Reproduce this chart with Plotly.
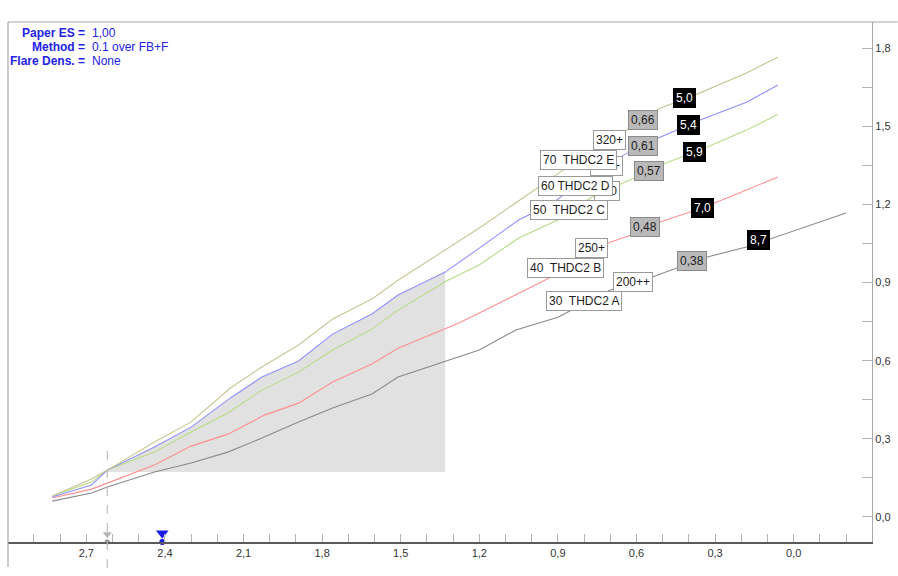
import numpy as np
import plotly.graph_objects as go

# ---- series data (x axis runs right-to-left) ----
x_a = [2.83, 2.68, 2.62, 2.44, 2.30, 2.16, 2.03, 1.89, 1.76, 1.61, 1.51, 1.32, 1.20, 1.06, 0.90, 0.70, 0.54, 0.33, 0.18, -0.20]
y_a = [0.061, 0.092, 0.115, 0.173, 0.207, 0.249, 0.303, 0.365, 0.418, 0.472, 0.537, 0.602, 0.641, 0.718, 0.767, 0.871, 0.921, 0.998, 1.036, 1.167]

x_b = [2.83, 2.68, 2.62, 2.44, 2.30, 2.16, 2.02, 1.89, 1.76, 1.61, 1.51, 1.28, 1.20, 1.05, 0.91, 0.70, 0.62, 0.51, 0.35, 0.21, 0.06]
y_b = [0.073, 0.107, 0.130, 0.200, 0.272, 0.318, 0.391, 0.437, 0.518, 0.587, 0.648, 0.744, 0.783, 0.860, 0.929, 1.055, 1.082, 1.132, 1.186, 1.243, 1.305]

x_c = [2.83, 2.68, 2.62, 2.44, 2.30, 2.16, 2.03, 1.89, 1.76, 1.61, 1.51, 1.32, 1.20, 1.05, 0.90, 0.77, 0.60, 0.49, 0.33, 0.18, 0.06]
y_c = [0.081, 0.134, 0.180, 0.249, 0.326, 0.399, 0.487, 0.556, 0.641, 0.721, 0.794, 0.909, 0.967, 1.071, 1.140, 1.228, 1.305, 1.358, 1.420, 1.485, 1.546]

x_d = [2.83, 2.68, 2.62, 2.44, 2.30, 2.15, 2.03, 1.89, 1.76, 1.61, 1.51, 1.39, 1.33, 1.20, 1.05, 0.92, 0.87, 0.65, 0.51, 0.36, 0.18, 0.06]
y_d = [0.077, 0.123, 0.180, 0.269, 0.345, 0.457, 0.537, 0.599, 0.702, 0.779, 0.852, 0.909, 0.940, 1.032, 1.140, 1.205, 1.243, 1.389, 1.458, 1.523, 1.592, 1.658]

x_e = [2.83, 2.68, 2.62, 2.44, 2.30, 2.15, 2.03, 1.89, 1.76, 1.61, 1.51, 1.20, 0.98, 0.87, 0.65, 0.51, 0.36, 0.18, 0.06]
y_e = [0.081, 0.146, 0.180, 0.288, 0.365, 0.495, 0.576, 0.660, 0.760, 0.837, 0.909, 1.109, 1.262, 1.339, 1.477, 1.569, 1.627, 1.704, 1.765]

# shaded working range and its floor
shade_from = 2.62
shade_to = 1.33
shade_floor = 0.173

# axis markers
marker_gray_x = 2.62
marker_blue_x = 2.41
dash_top = 0.27

# header values
header_rows = [("Paper ES =", "1,00"), ("Method =", "0.1 over FB+F"), ("Flare Dens. =", "None")]

# per-series labels: (text, x position, box style, vertical nudge in px)
labels_a = [("30\u00a0 THDC2 A", 0.80, "w", 3), ("200++", 0.612, "w", 1), ("0,38", 0.390, "g", 2), ("8,7", 0.134, "k", 3)]
labels_b = [("40\u00a0 THDC2 B", 0.872, "w", 1), ("250+", 0.772, "w", 5), ("0,48", 0.566, "g", 2), ("7,0", 0.348, "k", 0)]
labels_c = [("50\u00a0 THDC2 C", 0.857, "w", 2), ("320", 0.711, "w", -1), ("0,57", 0.551, "g", 0), ("5,9", 0.379, "k", 0)]
labels_d = [("60 THDC2 D", 0.834, "w", 1), ("320+", 0.715, "w", 0), ("0,61", 0.577, "g", 0), ("5,4", 0.402, "k", 0)]
labels_e = [("70\u00a0 THDC2 E", 0.822, "w", 0), ("320+", 0.704, "w", 1), ("0,66", 0.577, "g", 0), ("5,0", 0.417, "k", 1)]

series = [
    (x_a, y_a, "#8a8a8a", labels_a),
    (x_b, y_b, "#ff8f8f", labels_b),
    (x_c, y_c, "#b6dc84", labels_c),
    (x_d, y_d, "#8f8fff", labels_d),
    (x_e, y_e, "#c8c592", labels_e),
]

FONT = "Liberation Sans, Arial, sans-serif"
fig = go.Figure()

# shaded region under series D between the two limits
xd = np.array(x_d)
yd = np.array(y_d)
sel = (xd <= shade_from + 1e-9) & (xd >= shade_to - 1e-9)
poly_x = list(xd[sel]) + [shade_to, shade_from]
poly_y = list(yd[sel]) + [shade_floor, shade_floor]
fig.add_trace(go.Scatter(x=poly_x, y=poly_y, fill="toself", fillcolor="#e1e1e1",
                         mode="none", hoverinfo="skip", showlegend=False))

for xs, ys, col, _ in series:
    fig.add_trace(go.Scatter(x=xs, y=ys, mode="lines", line=dict(color=col, width=1.1),
                             showlegend=False, hoverinfo="skip"))

# markers sitting on the x axis
y_lo, y_hi = -0.096, 1.9
fig.add_trace(go.Scatter(x=[marker_gray_x], y=[y_lo + 0.03], mode="markers", cliponaxis=False,
                         marker=dict(symbol="triangle-down", size=8, color="#b4b4b4"), showlegend=False))
fig.add_trace(go.Scatter(x=[marker_gray_x], y=[y_lo], mode="markers", cliponaxis=False,
                         marker=dict(symbol="circle", size=5, color="#8c8c8c"), showlegend=False))
fig.add_trace(go.Scatter(x=[marker_blue_x], y=[y_lo + 0.034], mode="markers", cliponaxis=False,
                         marker=dict(symbol="triangle-down", size=11, color="#1a1ae6"), showlegend=False))
fig.add_trace(go.Scatter(x=[marker_blue_x], y=[y_lo], mode="markers", cliponaxis=False,
                         marker=dict(symbol="circle", size=6, color="#1a1ae6"), showlegend=False))

annotations = []
styles = {
    "w": dict(bgcolor="white", bordercolor="#9a9a9a", font=dict(color="#1e1e1e", size=12, family=FONT)),
    "g": dict(bgcolor="#b9b9b9", bordercolor="#8a8a8a", font=dict(color="#1e1e1e", size=12, family=FONT)),
    "k": dict(bgcolor="black", bordercolor="black", font=dict(color="white", size=12, family=FONT)),
}
for xs, ys, col, labs in series:
    xr = np.array(xs)[::-1]
    yr = np.array(ys)[::-1]
    for text, lx, kind, nudge in labs:
        ly = float(np.interp(lx, xr, yr))
        annotations.append(dict(x=lx, y=ly, xref="x", yref="y", text=text, showarrow=False,
                                borderwidth=1, borderpad=2, yshift=nudge, **styles[kind]))

# header block, top-left
head_y = [0.979, 0.952, 0.925]
for (lab, val), hy in zip(header_rows, head_y):
    annotations.append(dict(x=0.0915, y=hy, xref="paper", yref="paper", text="<b>" + lab + "</b>",
                            showarrow=False, xanchor="right", yanchor="middle",
                            font=dict(color="#2323e6", size=12, family=FONT)))
    annotations.append(dict(x=0.095, y=hy, xref="paper", yref="paper", text=val,
                            showarrow=False, xanchor="left", yanchor="middle",
                            font=dict(color="#2323e6", size=12, family=FONT)))

shapes = [
    # frame: top edge and left edge
    dict(type="line", xref="paper", yref="paper", x0=0, x1=1.03, y0=1, y1=1,
         line=dict(color="#a8a8a8", width=1.2)),
    dict(type="line", xref="paper", yref="paper", x0=0, x1=0, y0=1, y1=-0.048,
         line=dict(color="#a8a8a8", width=1.2)),
    # dashed vertical reference
    dict(type="line", xref="x", yref="paper", x0=marker_gray_x, x1=marker_gray_x, y0=-0.05,
         y1=(dash_top - y_lo) / (y_hi - y_lo), line=dict(color="#c0c0c0", width=1.2, dash="dash")),
]

fig.update_layout(
    width=898, height=576,
    margin=dict(l=8, r=26, t=22, b=34),
    paper_bgcolor="white", plot_bgcolor="white",
    separators=",.",
    showlegend=False,
    annotations=annotations,
    shapes=shapes,
    xaxis=dict(range=[2.999, -0.299], dtick=0.3, tick0=0, tickformat=".1f",
               showgrid=False, zeroline=False, ticks="inside", ticklen=8, tickcolor="#b4b4b4",
               showline=True, linecolor="#5a5a5a", linewidth=1.5,
               minor=dict(dtick=0.1, tick0=0, ticks="inside", ticklen=8, tickcolor="#b4b4b4"),
               tickfont=dict(size=11, color="#333333", family=FONT)),
    yaxis=dict(range=[y_lo, y_hi], dtick=0.3, tick0=0, tickformat=".1f", side="right",
               showgrid=False, zeroline=False, ticks="inside", ticklen=10, tickcolor="#b4b4b4",
               showline=True, linecolor="#a8a8a8", linewidth=1.2,
               minor=dict(dtick=0.15, tick0=0, ticks="inside", ticklen=10, tickcolor="#b4b4b4"),
               tickfont=dict(size=11, color="#333333", family=FONT)),
)

fig.write_html("out.html")
